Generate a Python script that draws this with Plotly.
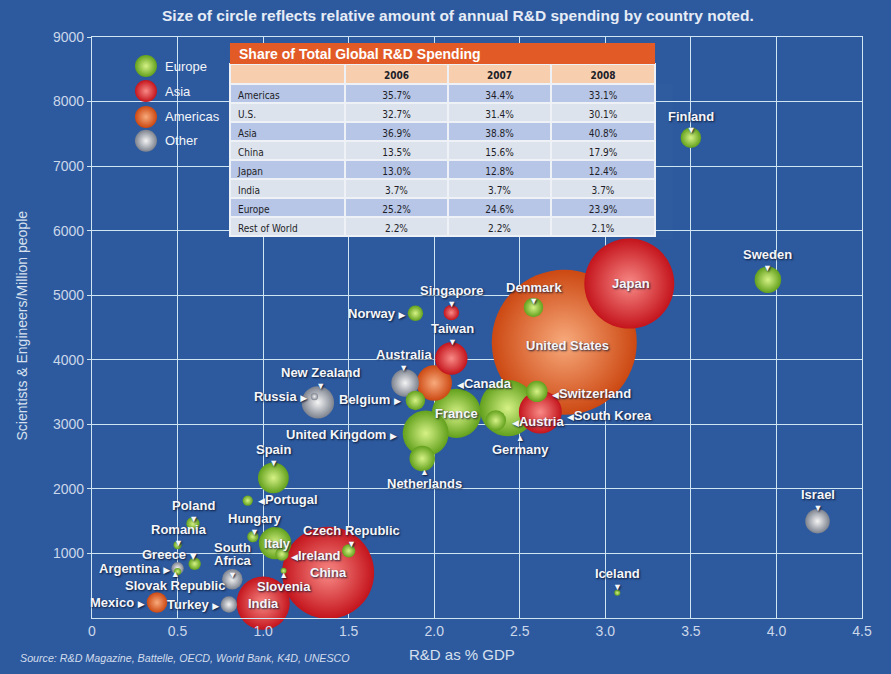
import plotly.graph_objects as go

# ---------------- data ----------------
countries = ["United States", "China", "Japan", "Germany", "India", "France",
             "United Kingdom", "South Korea", "Canada", "Italy", "Taiwan",
             "New Zealand", "Spain", "Australia", "Sweden", "Netherlands",
             "Israel", "Switzerland", "Finland", "Austria", "South Africa",
             "Mexico", "Belgium", "Denmark", "Turkey", "Norway", "Singapore",
             "Ireland", "Czech Republic", "Poland", "Greece", "Argentina",
             "Hungary", "Portugal", "Romania", "Russia", "Slovak Republic",
             "Slovenia", "Iceland"]
region = ["Americas", "Asia", "Asia", "Europe", "Asia", "Europe",
          "Europe", "Asia", "Americas", "Europe", "Asia",
          "Other", "Europe", "Other", "Europe", "Europe",
          "Other", "Europe", "Europe", "Europe", "Other",
          "Americas", "Europe", "Europe", "Other", "Europe", "Asia",
          "Europe", "Europe", "Europe", "Europe", "Other",
          "Europe", "Europe", "Europe", "Other", "Europe",
          "Europe", "Europe"]
rd_pct_gdp = [2.76, 1.38, 3.14, 2.43, 1.00, 2.13,
              1.95, 2.62, 2.00, 1.07, 2.10,
              1.32, 1.06, 1.83, 3.95, 1.93,
              4.24, 2.60, 3.50, 2.36, 0.82,
              0.38, 1.89, 2.58, 0.80, 1.89, 2.10,
              1.11, 1.50, 0.59, 0.60, 0.50,
              0.94, 0.91, 0.50, 1.30, 0.50,
              1.12, 3.07]
sci_eng_per_million = [4270, 700, 5180, 3250, 230, 3170,
                       2860, 3190, 3640, 1160, 4020,
                       3340, 2170, 3640, 5240, 2470,
                       1500, 3510, 7440, 3060, 600,
                       240, 3370, 4810, 210, 4720, 4730,
                       990, 1040, 1460, 840, 770,
                       1260, 1820, 1130, 3430, 720,
                       730, 390]
rd_spending_busd = [400, 161, 154, 60, 54, 46,
                    40, 35, 24, 20, 20,
                    20, 18, 14.5, 13.4, 12.4,
                    11.4, 8.7, 8, 8, 8,
                    8, 7.2, 7.2, 5.1, 4.5, 4.5,
                    3.4, 3.4, 3.4, 2.9, 2.9,
                    2.4, 2.0, 1.3, 1.0, 1.0,
                    0.5, 0.5]

legend_regions = ["Europe", "Asia", "Americas", "Other"]

table_rows = ["Americas", "U.S.", "Asia", "China", "Japan", "India", "Europe", "Rest of World"]
table_years = ["2006", "2007", "2008"]
share_2006 = ["35.7%", "32.7%", "36.9%", "13.5%", "13.0%", "3.7%", "25.2%", "2.2%"]
share_2007 = ["34.4%", "31.4%", "38.8%", "15.6%", "12.8%", "3.7%", "24.6%", "2.2%"]
share_2008 = ["33.1%", "30.1%", "40.8%", "17.9%", "12.4%", "3.7%", "23.9%", "2.1%"]

x_tickvals = [0, 0.5, 1.0, 1.5, 2.0, 2.5, 3.0, 3.5, 4.0, 4.5]
x_ticktext = ["0", "0.5", "1.0", "1.5", "2.0", "2.5", "3.0", "3.5", "4.0", "4.5"]
y_tickvals = [1000, 2000, 3000, 4000, 5000, 6000, 7000, 8000, 9000]

# ---------------- styles ----------------
BG = "#2D5A9E"
GRID = "#CFE5F2"
FONT = "Liberation Sans, Arial, Helvetica, sans-serif"
NARROW = "Liberation Sans Narrow, DejaVu Sans Condensed, Arial Narrow, sans-serif"
edge_col = {"Europe": "#62A01C", "Asia": "#C4141C", "Americas": "#CC4812", "Other": "#7C828E"}
center_col = {"Europe": "#D6F286", "Asia": "#F88A86", "Americas": "#F8AA7C", "Other": "#F4F4F4"}

SIZEREF = 0.03804  # area sizing for bubbles

# draw big bubbles first so small ones sit on top
order = sorted(range(len(countries)), key=lambda i: -rd_spending_busd[i])

fig = go.Figure()
fig.add_trace(go.Scatter(
    x=[rd_pct_gdp[i] for i in order],
    y=[sci_eng_per_million[i] for i in order],
    text=[countries[i] for i in order],
    mode="markers",
    marker=dict(
        size=[rd_spending_busd[i] for i in order],
        sizemode="area", sizeref=SIZEREF, sizemin=3,
        color=[edge_col[region[i]] for i in order],
        gradient=dict(type="radial", color=[center_col[region[i]] for i in order]),
        line=dict(width=0),
        opacity=1,
    ),
    hoverinfo="text",
    showlegend=False,
    cliponaxis=False,
))

# legend keys (custom, drawn on an overlay axis in 0..1 space)
leg_x = 0.0701
leg_y = [0.950, 0.907, 0.8625, 0.8213]
fig.add_trace(go.Scatter(
    x=[leg_x] * 4, y=leg_y, xaxis="x2", yaxis="y2", mode="markers",
    marker=dict(size=22, color=[edge_col[r] for r in legend_regions],
                gradient=dict(type="radial", color=[center_col[r] for r in legend_regions]),
                line=dict(width=0)),
    hoverinfo="skip", showlegend=False, cliponaxis=False,
))

# table
fig.add_trace(go.Table(
    domain=dict(x=[0.1792, 0.7312], y=[0.6510, 0.9536]),
    columnwidth=[115, 103, 103, 104],
    header=dict(values=[""] + table_years,
                fill_color="#F7CFAE", line=dict(color="#EEF2F7", width=2),
                font=dict(family=NARROW, size=10, color="#202028", weight="bold"),
                align="center", height=20),
    cells=dict(values=[table_rows, share_2006, share_2007, share_2008],
               fill_color=[["#B7C6E6" if k % 2 == 0 else "#DCE3EC" for k in range(len(table_rows))]] * 4,
               line=dict(color="#EEF2F7", width=2),
               font=dict(family=NARROW, size=10, color="#1E1E28"),
               align=["left", "center", "center", "center"], height=19),
))

annotations = []

# country labels: kind, dx, dy (screen px offsets of the label text from bubble centre)
label_layout = {
    "Finland": ("down", 0, -20), "Sweden": ("down", 0, -24), "Denmark": ("down", 1, -18),
    "Singapore": ("down", 1, -21), "Taiwan": ("down", 1, -28), "Australia": ("down", -1, -27),
    "New Zealand": ("down", 3, -28), "Spain": ("down", 0, -27), "Poland": ("down", 1, -17),
    "Romania": ("down", 1, -14), "Hungary": ("down", 2, -17), "Czech Republic": ("down", 3, -19),
    "South Africa": ("down2", 1, -32), "Iceland": ("down", 0, -18), "Israel": ("down", 0, -25),
    "Netherlands": ("up", 2, 25), "Slovak Republic": ("up", -3, 14), "Slovenia": ("up", 0, 16),
    "Germany": ("up", 13, 42),
    "Norway": ("right", -7, 0), "Russia": ("right", -5, 0), "Belgium": ("right", -12, -1),
    "United Kingdom": ("right", -27, 1), "Argentina": ("right", -6, 0), "Mexico": ("right", -10, 0),
    "Turkey": ("right", -8, 0), "Greece": ("rightdown", 4, -9),
    "Canada": ("left", 21, 0), "Portugal": ("left", 8, -1), "Ireland": ("left", 7, 1),
    "Switzerland": ("left", 13, 2), "South Korea": ("left", 25, 3), "Austria": ("left", 14, 1),
    "Japan": ("in", 2, 0), "United States": ("in", 3, 3), "France": ("in", 0, 0),
    "Italy": ("in", 2, 0), "China": ("in", 0, 0), "India": ("in", 0, 0),
}
SHADOW = "1px 1px 2px rgba(8,18,45,0.9)"
lab_font = dict(family=FONT, size=13, color="#F4F6FA", weight="bold", shadow=SHADOW)
small_font = dict(family=FONT, size=9, color="#F4F6FA", shadow=SHADOW)
up_font = dict(family=FONT, size=10, color="#F4F6FA", shadow=SHADOW)


def big(s):
    return "<span style='font-size:13px'><b>%s</b></span>" % s


ARR_R = "<span style='font-family:DejaVu Sans;font-size:9px'>▶</span>"
ARR_L = "<span style='font-family:DejaVu Sans;font-size:9px'>◀</span>"
ARR_D = "<span style='font-family:DejaVu Sans;font-size:9px'>▼</span>"
ARR_U = "<span style='font-size:9px'>▲</span>"
ARR_D9 = "<span style='font-size:9px'>▼</span>"


def ann(x, y, text, dx, dy, xanchor="center", font=lab_font):
    annotations.append(dict(x=x, y=y, xref="x", yref="y", text=text, showarrow=False,
                            xanchor=xanchor, yanchor="middle", xshift=dx, yshift=-dy,
                            font=font))


for name, (kind, dx, dy) in label_layout.items():
    i = countries.index(name)
    x, y = rd_pct_gdp[i], sci_eng_per_million[i]
    if kind == "down":
        ann(x, y, big(name) + "<br>▼", dx, dy + 4, font=small_font)
    elif kind == "down2":
        ann(x, y, "<br>".join(big(w) for w in name.split(" ")) + "<br>" + ARR_D9, dx, dy + 13,
            font=up_font)
    elif kind == "up":
        ann(x, y, ARR_U + "<br>" + big(name), dx, dy - 5, font=up_font)
    elif kind == "right":
        ann(x, y, name + " " + ARR_R, dx, dy, xanchor="right")
    elif kind == "rightdown":
        ann(x, y, name + " " + ARR_D, dx, dy, xanchor="right")
    elif kind == "left":
        ann(x, y, ARR_L + name, dx, dy, xanchor="left")
    else:
        ann(x, y, name, dx, dy)

# legend labels
for r, ly in zip(legend_regions, leg_y):
    annotations.append(dict(x=0.0922, y=ly, xref="paper", yref="paper", text=r,
                            showarrow=False, xanchor="left", yanchor="middle",
                            font=dict(family=FONT, size=13, color="#F2F4F8")))

# titles / notes
annotations += [
    dict(x=0.4753, y=1.0378, xref="paper", yref="paper", showarrow=False,
         text="Size of circle reflects relative amount of annual R&D spending by country noted.",
         xanchor="center", yanchor="middle",
         font=dict(family=FONT, size=15.5, color="#E6ECF6", weight="bold")),
    dict(x=-0.0909, y=0.5034, xref="paper", yref="paper", showarrow=False, textangle=-90,
         text="Scientists & Engineers/Million people", xanchor="center", yanchor="middle",
         font=dict(family=FONT, size=14, color="#D6E0EE")),
    dict(x=0.4805, y=-0.0636, xref="paper", yref="paper", showarrow=False,
         text="R&D as % GDP", xanchor="center", yanchor="middle",
         font=dict(family=FONT, size=15, color="#D6E0EE")),
    dict(x=-0.0961, y=-0.068, xref="paper", yref="paper", showarrow=False,
         text="<i>Source: R&D Magazine, Battelle, OECD, World Bank, K4D, UNESCO</i>",
         xanchor="left", yanchor="middle",
         font=dict(family=FONT, size=10.7, color="#D2DCEC")),
    dict(x=0.1883, y=0.9716, xref="paper", yref="paper", showarrow=False,
         text="Share of Total Global R&D Spending", xanchor="left", yanchor="middle",
         font=dict(family=FONT, size=14, color="#FFFFFF", weight="bold")),
]

shapes = [dict(type="rect", xref="paper", yref="paper", x0=0.1792, x1=0.7312,
               y0=0.9536, y1=0.9897, fillcolor="#E25B27", line=dict(width=0), layer="above")]

fig.update_layout(
    width=891, height=674,
    margin=dict(l=92, r=29, t=37, b=56),
    paper_bgcolor=BG, plot_bgcolor=BG,
    showlegend=False,
    font=dict(family=FONT, color="#D6E0EE"),
    xaxis=dict(range=[0, 4.5], tickvals=x_tickvals, ticktext=x_ticktext,
               showgrid=True, gridcolor=GRID, gridwidth=1.3, zeroline=False,
               showline=True, linecolor=GRID, linewidth=1.3, mirror=True,
               ticks="", tickfont=dict(family=FONT, size=14, color="#CBD7EA")),
    yaxis=dict(range=[0, 9000], tickvals=y_tickvals,
               showgrid=True, gridcolor=GRID, gridwidth=1.3, zeroline=False,
               showline=True, linecolor=GRID, linewidth=1.3, mirror=True,
               ticks="outside", ticklen=4, tickcolor=GRID,
               tickfont=dict(family=FONT, size=14, color="#CBD7EA")),
    xaxis2=dict(range=[0, 1], overlaying="x", visible=False, anchor="y2"),
    yaxis2=dict(range=[0, 1], overlaying="y", visible=False, anchor="x2"),
    annotations=annotations,
    shapes=shapes,
)

fig.write_html("out.html")
